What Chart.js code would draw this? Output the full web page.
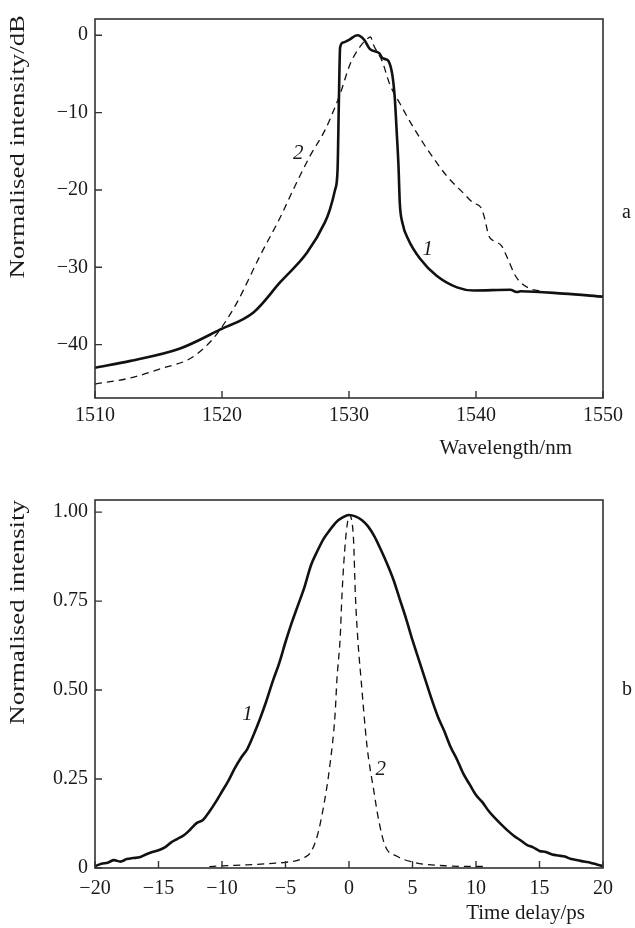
<!DOCTYPE html>
<html>
<head>
<meta charset="utf-8">
<script src="https://cdn.jsdelivr.net/npm/chart.js@4.4.1/dist/chart.umd.min.js"></script>
<style>
  html, body { margin: 0; padding: 0; background: #fff; }
  body { width: 635px; height: 928px; position: relative; overflow: hidden; }
  canvas { position: absolute; left: 0; }
  #chartA { top: 0; }
  #chartB { top: 470px; }
</style>
</head>
<body>
<canvas id="chartA" width="635" height="470"></canvas>
<canvas id="chartB" width="635" height="458"></canvas>
<script>
// ---- panel a: spectra ----
const specWavelength1 = [1510, 1512.8, 1516.7, 1519.8, 1522.5, 1524.6, 1526.7, 1528.1, 1528.5, 1528.9, 1529.1, 1529.2, 1529.3, 1529.55, 1530.0, 1530.65, 1531.2, 1531.65, 1532.4, 1532.6, 1532.9, 1533.1, 1533.4, 1533.6, 1533.75, 1533.9, 1534.0, 1534.2, 1534.67, 1535.6, 1536.9, 1538.5, 1539.8, 1542.7, 1543.2, 1543.5, 1546.9, 1550];
const specPump = [-43.0, -42.1, -40.5, -38.1, -35.8, -31.9, -28.1, -24.2, -22.5, -20.0, -17.4, -8.8, -1.6, -0.94, -0.6, 0, -0.6, -1.8, -2.35, -2.9, -3.1, -3.3, -5.0, -8.0, -12.3, -17.0, -21.7, -24.2, -26.4, -28.9, -31.1, -32.6, -33.0, -32.9, -33.2, -33.1, -33.4, -33.8];
const specWavelength2 = [1510, 1512.8, 1515.4, 1517.5, 1519.1, 1520, 1521.2, 1523, 1524.6, 1525.6, 1526.9, 1528.1, 1528.8, 1529.3, 1530.1, 1530.9, 1531.4, 1531.7, 1531.9, 1532.6, 1533.2, 1534.0, 1535.1, 1536.4, 1537.7, 1539.0, 1539.8, 1540.4, 1540.7, 1541.0, 1541.4, 1542.0, 1542.5, 1543.1, 1543.6, 1544.3, 1544.8, 1545.2];
const specOutput = [-45.1, -44.3, -43.0, -41.8, -39.6, -37.7, -34.5, -28.5, -23.5, -20.0, -15.7, -12.3, -9.7, -7.6, -3.7, -1.4, -0.5, -0.2, -1.15, -3.3, -6.3, -8.8, -12.0, -15.3, -18.2, -20.4, -21.7, -22.3, -23.8, -25.9, -26.6, -27.2, -28.9, -31.1, -32.1, -32.8, -33.0, -33.1];
const specXTicks = [1510, 1520, 1530, 1540, 1550];
const specYTicks = [-40, -30, -20, -10, 0];

// ---- panel b: autocorrelation ----
const delay1 = [-20, -19.5, -19, -18.5, -18, -17.5, -17, -16.5, -16, -15.5, -15, -14.5, -14, -13.5, -13, -12.5, -12, -11.5, -11, -10.5, -10, -9.5, -9, -8.5, -8, -7.5, -7, -6.5, -6, -5.5, -5, -4.5, -4, -3.5, -3, -2.5, -2, -1.5, -1, -0.5, 0, 0.5, 1, 1.5, 2, 2.5, 3, 3.5, 4, 4.5, 5, 5.5, 6, 6.5, 7, 7.5, 8, 8.5, 9, 9.5, 10, 10.5, 11, 11.5, 12, 12.5, 13, 13.5, 14, 14.5, 15, 15.5, 16, 16.5, 17, 17.5, 18, 18.5, 19, 19.5, 20];
const acfPump = [0.005, 0.012, 0.015, 0.022, 0.018, 0.025, 0.028, 0.030, 0.038, 0.045, 0.050, 0.058, 0.072, 0.082, 0.092, 0.108, 0.126, 0.135, 0.158, 0.185, 0.215, 0.245, 0.28, 0.31, 0.335, 0.375, 0.42, 0.47, 0.525, 0.575, 0.635, 0.69, 0.74, 0.79, 0.85, 0.89, 0.925, 0.95, 0.972, 0.985, 0.992, 0.988, 0.978, 0.96, 0.932, 0.895, 0.855, 0.81, 0.755, 0.70, 0.64, 0.585, 0.53, 0.475, 0.425, 0.385, 0.34, 0.305, 0.265, 0.235, 0.205, 0.185, 0.16, 0.14, 0.122, 0.105, 0.09, 0.078, 0.065, 0.058, 0.048, 0.045, 0.038, 0.035, 0.032, 0.025, 0.022, 0.018, 0.015, 0.010, 0.005];
const delay2 = [-11, -10, -8, -6, -5, -4, -3.5, -3.05, -2.5, -2, -1.5, -1.1, -0.95, -0.69, -0.55, -0.29, -0.1, 0.02, 0.16, 0.36, 0.5, 0.68, 0.95, 1.42, 1.94, 2.33, 2.86, 3.78, 5.09, 7.7, 10.9];
const acfOutput = [0.004, 0.006, 0.009, 0.013, 0.016, 0.022, 0.03, 0.042, 0.09, 0.173, 0.29, 0.43, 0.53, 0.65, 0.77, 0.915, 0.975, 0.992, 0.985, 0.92, 0.77, 0.65, 0.53, 0.342, 0.22, 0.136, 0.061, 0.033, 0.016, 0.006, 0.004];
const acfXTicks = [-20, -15, -10, -5, 0, 5, 10, 15, 20];
const acfYTicks = [0, 0.25, 0.5, 0.75, 1];

const FONT = 'Liberation Serif';
const INK = '#1a1a1a';

function pairs(xs, ys) {
  return xs.map((x, i) => ({ x: x, y: ys[i] }));
}
function signed(v) {
  return v < 0 ? '\u2212' + Math.abs(v) : String(v);
}

// frame, inward ticks and the loose texts
function decor(texts, curveLabels) {
  return {
    id: 'decor',
    afterDraw(chart) {
      const c = chart.ctx, a = chart.chartArea;
      const xs = chart.scales.x, ys = chart.scales.y;
      c.save();
      c.strokeStyle = '#333';
      c.lineWidth = 1.6;
      c.strokeRect(a.left, a.top, a.right - a.left, a.bottom - a.top);
      c.lineWidth = 1.4;
      c.beginPath();
      xs.ticks.forEach((t, i) => {
        const px = xs.getPixelForTick(i);
        c.moveTo(px, a.bottom); c.lineTo(px, a.bottom - 7);
      });
      ys.ticks.forEach((t, i) => {
        const py = ys.getPixelForTick(i);
        c.moveTo(a.left, py); c.lineTo(a.left + 7, py);
      });
      c.stroke();
      c.fillStyle = INK;
      c.textBaseline = 'middle';
      texts.forEach(t => {
        c.save();
        c.font = t.size + 'px ' + FONT;
        c.translate(t.x, t.y);
        if (t.rot) {
          c.rotate(-Math.PI / 2);
          c.scale(1.28, 1);   // the y titles are drawn stretched in the original
        }
        c.textAlign = t.align || 'left';
        c.fillText(t.text, 0, 0);
        c.restore();
      });
      c.font = 'italic 21px ' + FONT;
      c.textAlign = 'center';
      curveLabels.forEach(l => {
        c.fillText(l.text, xs.getPixelForValue(l.x), ys.getPixelForValue(l.y));
      });
      c.restore();
    }
  };
}

function axis(min, max, ticks, fmt, fitKey, fitVal, pad) {
  return {
    type: 'linear',
    min: min,
    max: max,
    afterBuildTicks: s => { s.ticks = ticks.map(v => ({ value: v })); },
    afterFit: s => { s[fitKey] = fitVal; },
    grid: { display: false, drawTicks: false },
    border: { display: false },
    ticks: {
      color: INK,
      padding: pad,
      maxRotation: 0,
      autoSkip: false,
      font: { family: FONT, size: 20 },
      callback: fmt
    }
  };
}

function lineSet(data, solid) {
  return {
    data: data,
    showLine: true,
    borderColor: '#111',
    borderWidth: solid ? 2.6 : 1.3,
    borderDash: solid ? [] : [7, 5],
    pointRadius: 0,
    tension: 0,
    cubicInterpolationMode: 'monotone',
    fill: false
  };
}

const common = {
  responsive: false,
  animation: false,
  events: [],
  plugins: { legend: { display: false }, tooltip: { enabled: false } }
};

new Chart(document.getElementById('chartA'), {
  type: 'scatter',
  data: {
    datasets: [
      lineSet(pairs(specWavelength1, specPump), true),
      lineSet(pairs(specWavelength2, specOutput), false)
    ]
  },
  options: Object.assign({}, common, {
    layout: { padding: { left: 0, right: 32, top: 15, bottom: 0 } },
    scales: {
      x: axis(1510, 1550, specXTicks, v => String(v), 'height', 72, 6),
      y: axis(-46.9, 2.1, specYTicks, v => signed(v), 'width', 95, 7)
    }
  }),
  plugins: [decor(
    [
      { text: 'Normalised intensity/dB', x: 18, y: 15, rot: true, align: 'right', size: 21 },
      { text: 'Wavelength/nm', x: 572, y: 448, align: 'right', size: 21 },
      { text: 'a', x: 622, y: 213, size: 20 }
    ],
    [{ text: '1', x: 1536.2, y: -27.7 }, { text: '2', x: 1526.0, y: -15.3 }]
  )]
});

new Chart(document.getElementById('chartB'), {
  type: 'scatter',
  data: {
    datasets: [
      lineSet(pairs(delay1, acfPump), true),
      lineSet(pairs(delay2, acfOutput), false)
    ]
  },
  options: Object.assign({}, common, {
    layout: { padding: { left: 0, right: 32, top: 30, bottom: 0 } },
    scales: {
      x: axis(-20, 20, acfXTicks, v => signed(v), 'height', 60, 9),
      y: axis(0, 1.034, acfYTicks, v => (v === 0 ? '0' : v.toFixed(2)), 'width', 95, 7)
    }
  }),
  plugins: [decor(
    [
      { text: 'Normalised intensity', x: 18, y: 30, rot: true, align: 'right', size: 21 },
      { text: 'Time delay/ps', x: 585, y: 443, align: 'right', size: 21 },
      { text: 'b', x: 622, y: 220, size: 20 }
    ],
    [{ text: '1', x: -8.0, y: 0.43 }, { text: '2', x: 2.5, y: 0.276 }]
  )]
});
</script>
</body>
</html>
